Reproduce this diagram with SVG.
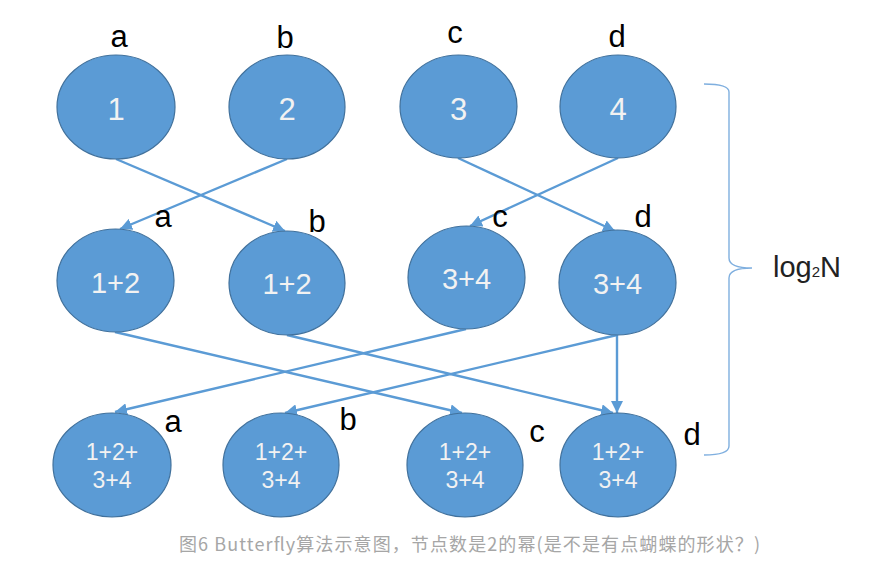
<svg xmlns="http://www.w3.org/2000/svg" width="877" height="574" viewBox="0 0 877 574">
<defs>
<style>
.node{fill:#5B9BD5;stroke:#41719C;stroke-width:1.2}
.nt{fill:#F2F2F2;font-family:"Liberation Sans",Arial,sans-serif;text-anchor:middle}
.lbl{fill:#000;font-family:"Liberation Sans",Arial,sans-serif;font-size:31px;text-anchor:middle}
.edge{stroke:#5B9BD5;stroke-width:2.4;fill:none;marker-end:url(#arr)}
</style>
<marker id="arr" markerUnits="userSpaceOnUse" markerWidth="14" markerHeight="12" refX="12" refY="6" orient="auto">
<path d="M0,0 L12,6 L0,12 Z" fill="#5B9BD5"/>
</marker>
</defs>
<rect width="877" height="574" fill="#fff"/>

<g id="connectors">
<line class="edge" x1="116" y1="159" x2="285" y2="231"/>
<line class="edge" x1="287" y1="159" x2="120" y2="229"/>
<line class="edge" x1="458" y1="158" x2="615" y2="231"/>
<line class="edge" x1="618" y1="158" x2="470" y2="226"/>
<line class="edge" x1="115" y1="332" x2="462" y2="413"/>
<line class="edge" x1="287" y1="335" x2="613" y2="413"/>
<line class="edge" x1="466" y1="329" x2="115" y2="412"/>
<line class="edge" x1="617" y1="335" x2="285" y2="413"/>
<line class="edge" x1="617" y1="335" x2="617" y2="413"/>
</g>

<g id="n1"><ellipse class="node" cx="116" cy="107" rx="59" ry="52"/><text class="nt" x="116" y="120" font-size="31">1</text></g>
<g id="n2"><ellipse class="node" cx="287" cy="107" rx="58" ry="52"/><text class="nt" x="287" y="120" font-size="31">2</text></g>
<g id="n3"><ellipse class="node" cx="458.5" cy="106.5" rx="58.5" ry="51.5"/><text class="nt" x="458.5" y="120" font-size="31">3</text></g>
<g id="n4"><ellipse class="node" cx="618" cy="106.5" rx="58" ry="51.5"/><text class="nt" x="618" y="120" font-size="31">4</text></g>

<g id="m1"><ellipse class="node" cx="115.5" cy="280.5" rx="58.5" ry="51.5"/><text class="nt" x="115.5" y="293" font-size="29">1+2</text></g>
<g id="m2"><ellipse class="node" cx="287" cy="283" rx="58" ry="52"/><text class="nt" x="287" y="294" font-size="29">1+2</text></g>
<g id="m3"><ellipse class="node" cx="466.5" cy="277.5" rx="58.5" ry="51.5"/><text class="nt" x="466.5" y="289" font-size="29">3+4</text></g>
<g id="m4"><ellipse class="node" cx="617.5" cy="282.5" rx="58.5" ry="52.5"/><text class="nt" x="617.5" y="294" font-size="29">3+4</text></g>

<g id="b1"><ellipse class="node" cx="112" cy="465" rx="59" ry="52"/><text class="nt" x="112" font-size="23"><tspan x="112" y="460">1+2+</tspan><tspan x="112" y="488">3+4</tspan></text></g>
<g id="b2"><ellipse class="node" cx="281" cy="465" rx="58" ry="52"/><text class="nt" x="281" font-size="23"><tspan x="281" y="460">1+2+</tspan><tspan x="281" y="488">3+4</tspan></text></g>
<g id="b3"><ellipse class="node" cx="465" cy="465" rx="58" ry="52"/><text class="nt" x="465" font-size="23"><tspan x="465" y="460">1+2+</tspan><tspan x="465" y="488">3+4</tspan></text></g>
<g id="b4"><ellipse class="node" cx="618" cy="465" rx="58" ry="52"/><text class="nt" x="618" font-size="23"><tspan x="618" y="460">1+2+</tspan><tspan x="618" y="488">3+4</tspan></text></g>

<g id="labels">
<text class="lbl" x="119" y="47">a</text>
<text class="lbl" x="285" y="48">b</text>
<text class="lbl" x="455" y="43">c</text>
<text class="lbl" x="617" y="47">d</text>
<text class="lbl" x="163" y="227">a</text>
<text class="lbl" x="317" y="232">b</text>
<text class="lbl" x="500" y="227">c</text>
<text class="lbl" x="643" y="227">d</text>
<text class="lbl" x="173" y="432">a</text>
<text class="lbl" x="348" y="430">b</text>
<text class="lbl" x="537" y="442">c</text>
<text class="lbl" x="692" y="445">d</text>
</g>

<g id="brace">
<path d="M704,84 Q729,84 729,92 L729,258 Q729,268 752,268 Q729,268 729,278 L729,446 Q729,455 704,455" fill="none" stroke="#7FAFDF" stroke-width="1.4"/>
<text x="773" y="277" font-family="Liberation Sans,Arial,sans-serif" font-size="29" fill="#222">log<tspan font-size="15">2</tspan>N</text>
</g>

<text x="469.5" y="551" font-family="Noto Sans CJK SC,Noto Sans,sans-serif" font-size="18" fill="#A6A6A6" text-anchor="middle" textLength="581" lengthAdjust="spacing">图6 Butterfly算法示意图，节点数是2的幂(是不是有点蝴蝶的形状？)</text>
</svg>
